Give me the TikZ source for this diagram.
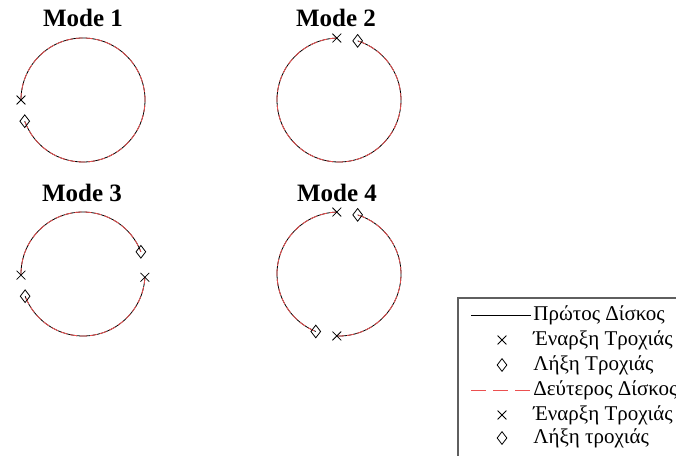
\documentclass[tikz,border=0pt]{standalone}
\usepackage{fontspec}
\setmainfont{Liberation Serif}
\usetikzlibrary{shapes.geometric,shapes.misc}
\definecolor{diskred}{RGB}{235,80,80}
\definecolor{boxgray}{RGB}{95,95,95}

\begin{document}
\begin{tikzpicture}[x=1pt,y=1pt,line width=0.8pt,
  ttl/.style={font=\fontsize{25}{28}\selectfont\bfseries},
  lg/.style={anchor=west,inner sep=0pt,font=\fontsize{21}{24}\selectfont},
  trj/.style={draw=black,postaction={draw=diskred,dash pattern=on 7pt off 3pt}},
  stmk/.style={draw,cross out,minimum size=8pt,inner sep=0pt,line width=0.8pt},
  endmk/.style={draw,diamond,minimum width=10pt,minimum height=13pt,inner sep=0pt,line width=0.8pt}]
  \clip (0,0) rectangle (676,455);
  % centres of the four plots
  \coordinate (c1) at (83,355);  \coordinate (c2) at (339,355);
  \coordinate (c3) at (83,181);  \coordinate (c4) at (339,181);
  \node[ttl] (t1) at (83,437) {Mode 1};
  \node[ttl] (t2) at (336,437) {Mode 2};
  \node[ttl] (t3) at (82,262) {Mode 3};
  \node[ttl] (t4) at (337,262) {Mode 4};
  % Mode 1
  \draw[trj] ([shift={(180:62)}]c1) arc[start angle=180,end angle=-160,radius=62];
  \node[stmk] (s1) at ([shift={(180:62)}]c1) {};
  \node[endmk] (e1) at ([shift={(200:62)}]c1) {};
  % Mode 2
  \draw[trj] ([shift={(92:62)}]c2) arc[start angle=92,end angle=432.5,radius=62];
  \node[stmk] (s2) at ([shift={(92:62)}]c2) {};
  \node[endmk] (e2) at ([shift={(72.5:62)}]c2) {};
  % Mode 3
  \draw[trj] ([shift={(181:62)}]c3) arc[start angle=181,end angle=21,radius=62];
  \draw[trj] ([shift={(-3:62)}]c3) arc[start angle=-3,end angle=-159,radius=62];
  \node[stmk] (s3a) at ([shift={(181:62)}]c3) {};
  \node[endmk] (e3a) at ([shift={(21:62)}]c3) {};
  \node[stmk] (s3b) at ([shift={(-3:62)}]c3) {};
  \node[endmk] (e3b) at ([shift={(201:62)}]c3) {};
  % Mode 4
  \draw[trj] ([shift={(92:62)}]c4) arc[start angle=92,end angle=248,radius=62];
  \draw[trj] ([shift={(268:62)}]c4) arc[start angle=268,end angle=432.5,radius=62];
  \node[stmk] (s4a) at ([shift={(92:62)}]c4) {};
  \node[endmk] (e4a) at ([shift={(248:62)}]c4) {};
  \node[stmk] (s4b) at ([shift={(268:62)}]c4) {};
  \node[endmk] (e4b) at ([shift={(72.5:62)}]c4) {};
  % legend
  \draw[boxgray,line width=1.6pt] (458,-10) rectangle (700,157);
  \coordinate (la) at (471,140); \coordinate (lb) at (531,140);
  \coordinate (lc) at (471,65);  \coordinate (ld) at (531,65);
  \draw[black] (la) -- (lb);
  \draw[diskred,dash pattern=on 15pt off 7pt] (lc) -- (ld);
  \node[lg] (l1) at (533,140) {Πρώτος Δίσκος};
  \node[stmk] (ls1) at (502,115) {}; \node[lg] (l2) at (533,115) {Έναρξη Τροχιάς};
  \node[endmk] (le1) at (502,90) {}; \node[lg] (l3) at (533,90) {Λήξη Τροχιάς};
  \node[lg] (l4) at (533,65) {Δεύτερος Δίσκος};
  \node[stmk] (ls2) at (502,40) {}; \node[lg] (l5) at (533,40) {Έναρξη Τροχιάς};
  \node[endmk] (le2) at (502,17) {}; \node[lg] (l6) at (533,17) {Λήξη τροχιάς};
\end{tikzpicture}
\end{document}
